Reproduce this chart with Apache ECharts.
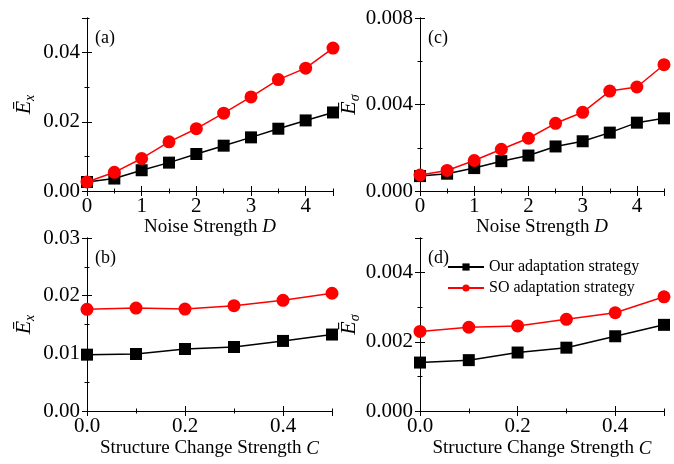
<!DOCTYPE html>
<html>
<head>
  <meta charset="utf-8" />
  <title>Adaptation strategy errors</title>
  <script src="https://cdn.jsdelivr.net/npm/echarts@6/dist/echarts.min.js"></script>
  <style>
    html, body { margin: 0; padding: 0; background: #fff; }
    #main { width: 674px; height: 464px; }
  </style>
</head>
<body>
  <div id="main"></div>
  <script>
    // x values
    var noiseD = [0, 0.5, 1, 1.5, 2, 2.5, 3, 3.5, 4, 4.5];
    var structC = [0, 0.1, 0.2, 0.3, 0.4, 0.5];
    // (a) E_x vs D
    var ourExD = [0.0026, 0.0036, 0.0060, 0.0082, 0.0107, 0.0131, 0.0155, 0.0180, 0.0204, 0.0227];
    var soExD = [0.0026, 0.0054, 0.0094, 0.0142, 0.0180, 0.0225, 0.0272, 0.0322, 0.0355, 0.0413];
    // (c) E_sigma vs D
    var ourEsD = [0.00069, 0.00080, 0.00106, 0.00138, 0.00164, 0.00206, 0.00230, 0.00270, 0.00316, 0.00336];
    var soEsD = [0.00074, 0.00095, 0.00141, 0.00193, 0.00244, 0.00313, 0.00364, 0.00462, 0.00481, 0.00584];
    // (b) E_x vs C
    var ourExC = [0.00977, 0.00988, 0.01075, 0.0111, 0.01215, 0.01326];
    var soExC = [0.01763, 0.01785, 0.01768, 0.01826, 0.0192, 0.02042];
    // (d) E_sigma vs C
    var ourEsC = [0.0014, 0.00147, 0.00169, 0.00183, 0.00216, 0.00249];
    var soEsC = [0.0023, 0.00242, 0.00246, 0.00265, 0.00284, 0.0033];

    var serif = '"Liberation Serif", "Times New Roman", serif';
    var ourName = 'Our adaptation strategy';
    var soName = 'SO adaptation strategy';

    // panel layout
    var panels = [
      { tag: '(a)', grid: { left: 87, top: 18, width: 246, height: 173 },
        x: noiseD, our: ourExD, so: soExD,
        xAx: { max: 4.5, major: 1, minor: 0.5, dig: 0, showMax: false, name: 'Noise Strength {i|D}', gap: 25 },
        yAx: { max: 0.05, major: 0.02, minor: 0.01, dig: 2, showMax: false, sub: 'x', gap: 50 } },
      { tag: '(c)', grid: { left: 420, top: 18, width: 244, height: 173 },
        x: noiseD, our: ourEsD, so: soEsD,
        xAx: { max: 4.5, major: 1, minor: 0.5, dig: 0, showMax: false, name: 'Noise Strength {i|D}', gap: 25 },
        yAx: { max: 0.008, major: 0.004, minor: 0.002, dig: 3, showMax: true, sub: 'σ', gap: 58 } },
      { tag: '(b)', grid: { left: 87, top: 238, width: 245, height: 173 },
        x: structC, our: ourExC, so: soExC,
        xAx: { max: 0.5, major: 0.2, minor: 0.1, dig: 1, showMax: false, name: 'Structure Change Strength {i|C}', gap: 28 },
        yAx: { max: 0.03, major: 0.01, minor: 0.005, dig: 2, showMax: true, sub: 'x', gap: 50 } },
      { tag: '(d)', grid: { left: 420, top: 238, width: 244, height: 173 },
        x: structC, our: ourEsC, so: soEsC,
        xAx: { max: 0.5, major: 0.2, minor: 0.1, dig: 1, showMax: false, name: 'Structure Change Strength {i|C}', gap: 28 },
        yAx: { max: 0.005, major: 0.002, minor: 0.001, dig: 3, showMax: false, sub: 'σ', gap: 58 } }
    ];

    var grids = [], xAxes = [], yAxes = [], series = [], titles = [];

    function axisBase(gi, pos, a, step, main, labeled) {
      return {
        type: 'value', gridIndex: gi, position: pos,
        min: 0, max: a.max, interval: step,
        axisLine: { show: main, lineStyle: { color: '#000', width: 1 } },
        axisTick: { show: true, inside: true, length: main ? 5 : 2.5, lineStyle: { color: '#000', width: 1 } },
        axisLabel: { show: labeled, showMaxLabel: a.showMax, color: '#000',
          fontFamily: serif, fontSize: 21,
          formatter: function (v) { return v.toFixed(a.dig); } },
        splitLine: { show: false }
      };
    }

    panels.forEach(function (p, gi) {
      grids.push(Object.assign({ show: false }, p.grid));

      var xi = xAxes.length, yi = yAxes.length;
      var bx = axisBase(gi, 'bottom', p.xAx, p.xAx.major, true, true);
      bx.axisLabel.margin = 5;
      bx.name = p.xAx.name;
      bx.nameLocation = 'middle';
      bx.nameGap = p.xAx.gap;
      bx.nameTextStyle = { color: '#000', fontFamily: serif, fontSize: 19,
        rich: { i: { fontStyle: 'italic', fontFamily: serif, fontSize: 19, color: '#000' } } };
      xAxes.push(bx);
      xAxes.push(axisBase(gi, 'bottom', p.xAx, p.xAx.minor, false, false));
      xAxes.push(axisBase(gi, 'top', p.xAx, p.xAx.major, true, false));
      xAxes.push(axisBase(gi, 'top', p.xAx, p.xAx.minor, false, false));

      var ly = axisBase(gi, 'left', p.yAx, p.yAx.major, true, true);
      ly.axisLabel.margin = 7;
      ly.name = '{e|Ē}{s|' + p.yAx.sub + '}';
      ly.nameLocation = 'middle';
      ly.nameGap = p.yAx.gap;
      ly.nameTextStyle = { color: '#000', fontFamily: serif,
        rich: {
          e: { fontStyle: 'italic', fontFamily: serif, fontSize: 22, lineHeight: 26, color: '#000' },
          s: { fontStyle: 'italic', fontFamily: serif, fontSize: 14, lineHeight: 26, verticalAlign: 'bottom', color: '#000' }
        } };
      yAxes.push(ly);
      yAxes.push(axisBase(gi, 'left', p.yAx, p.yAx.minor, false, false));
      yAxes.push(axisBase(gi, 'right', p.yAx, p.yAx.major, true, false));
      yAxes.push(axisBase(gi, 'right', p.yAx, p.yAx.minor, false, false));

      series.push({
        name: ourName, type: 'line', xAxisIndex: xi, yAxisIndex: yi,
        data: p.x.map(function (v, i) { return [v, p.our[i]]; }),
        symbol: 'rect', symbolSize: 12,
        lineStyle: { color: '#000', width: 1.5 },
        itemStyle: { color: '#000' }
      });
      series.push({
        name: soName, type: 'line', xAxisIndex: xi, yAxisIndex: yi,
        data: p.x.map(function (v, i) { return [v, p.so[i]]; }),
        symbol: 'circle', symbolSize: 13,
        lineStyle: { color: '#ff0000', width: 1.5 },
        itemStyle: { color: '#ff0000' }
      });

      titles.push({
        text: p.tag, left: p.grid.left + 8, top: p.grid.top + 11, padding: 0,
        textStyle: { fontFamily: serif, fontSize: 18, fontWeight: 'normal', color: '#000' }
      });
    });

    var chart = echarts.init(document.getElementById('main'), null, { renderer: 'canvas' });
    chart.setOption({
      animation: false,
      backgroundColor: '#fff',
      title: titles,
      grid: grids,
      xAxis: xAxes,
      yAxis: yAxes,
      legend: {
        data: [ourName, soName],
        orient: 'vertical',
        left: 447, top: 259, padding: 0,
        itemWidth: 36, itemHeight: 9, itemGap: 5,
        textStyle: { fontFamily: serif, fontSize: 16, color: '#000' }
      },
      series: series
    });
  </script>
</body>
</html>
